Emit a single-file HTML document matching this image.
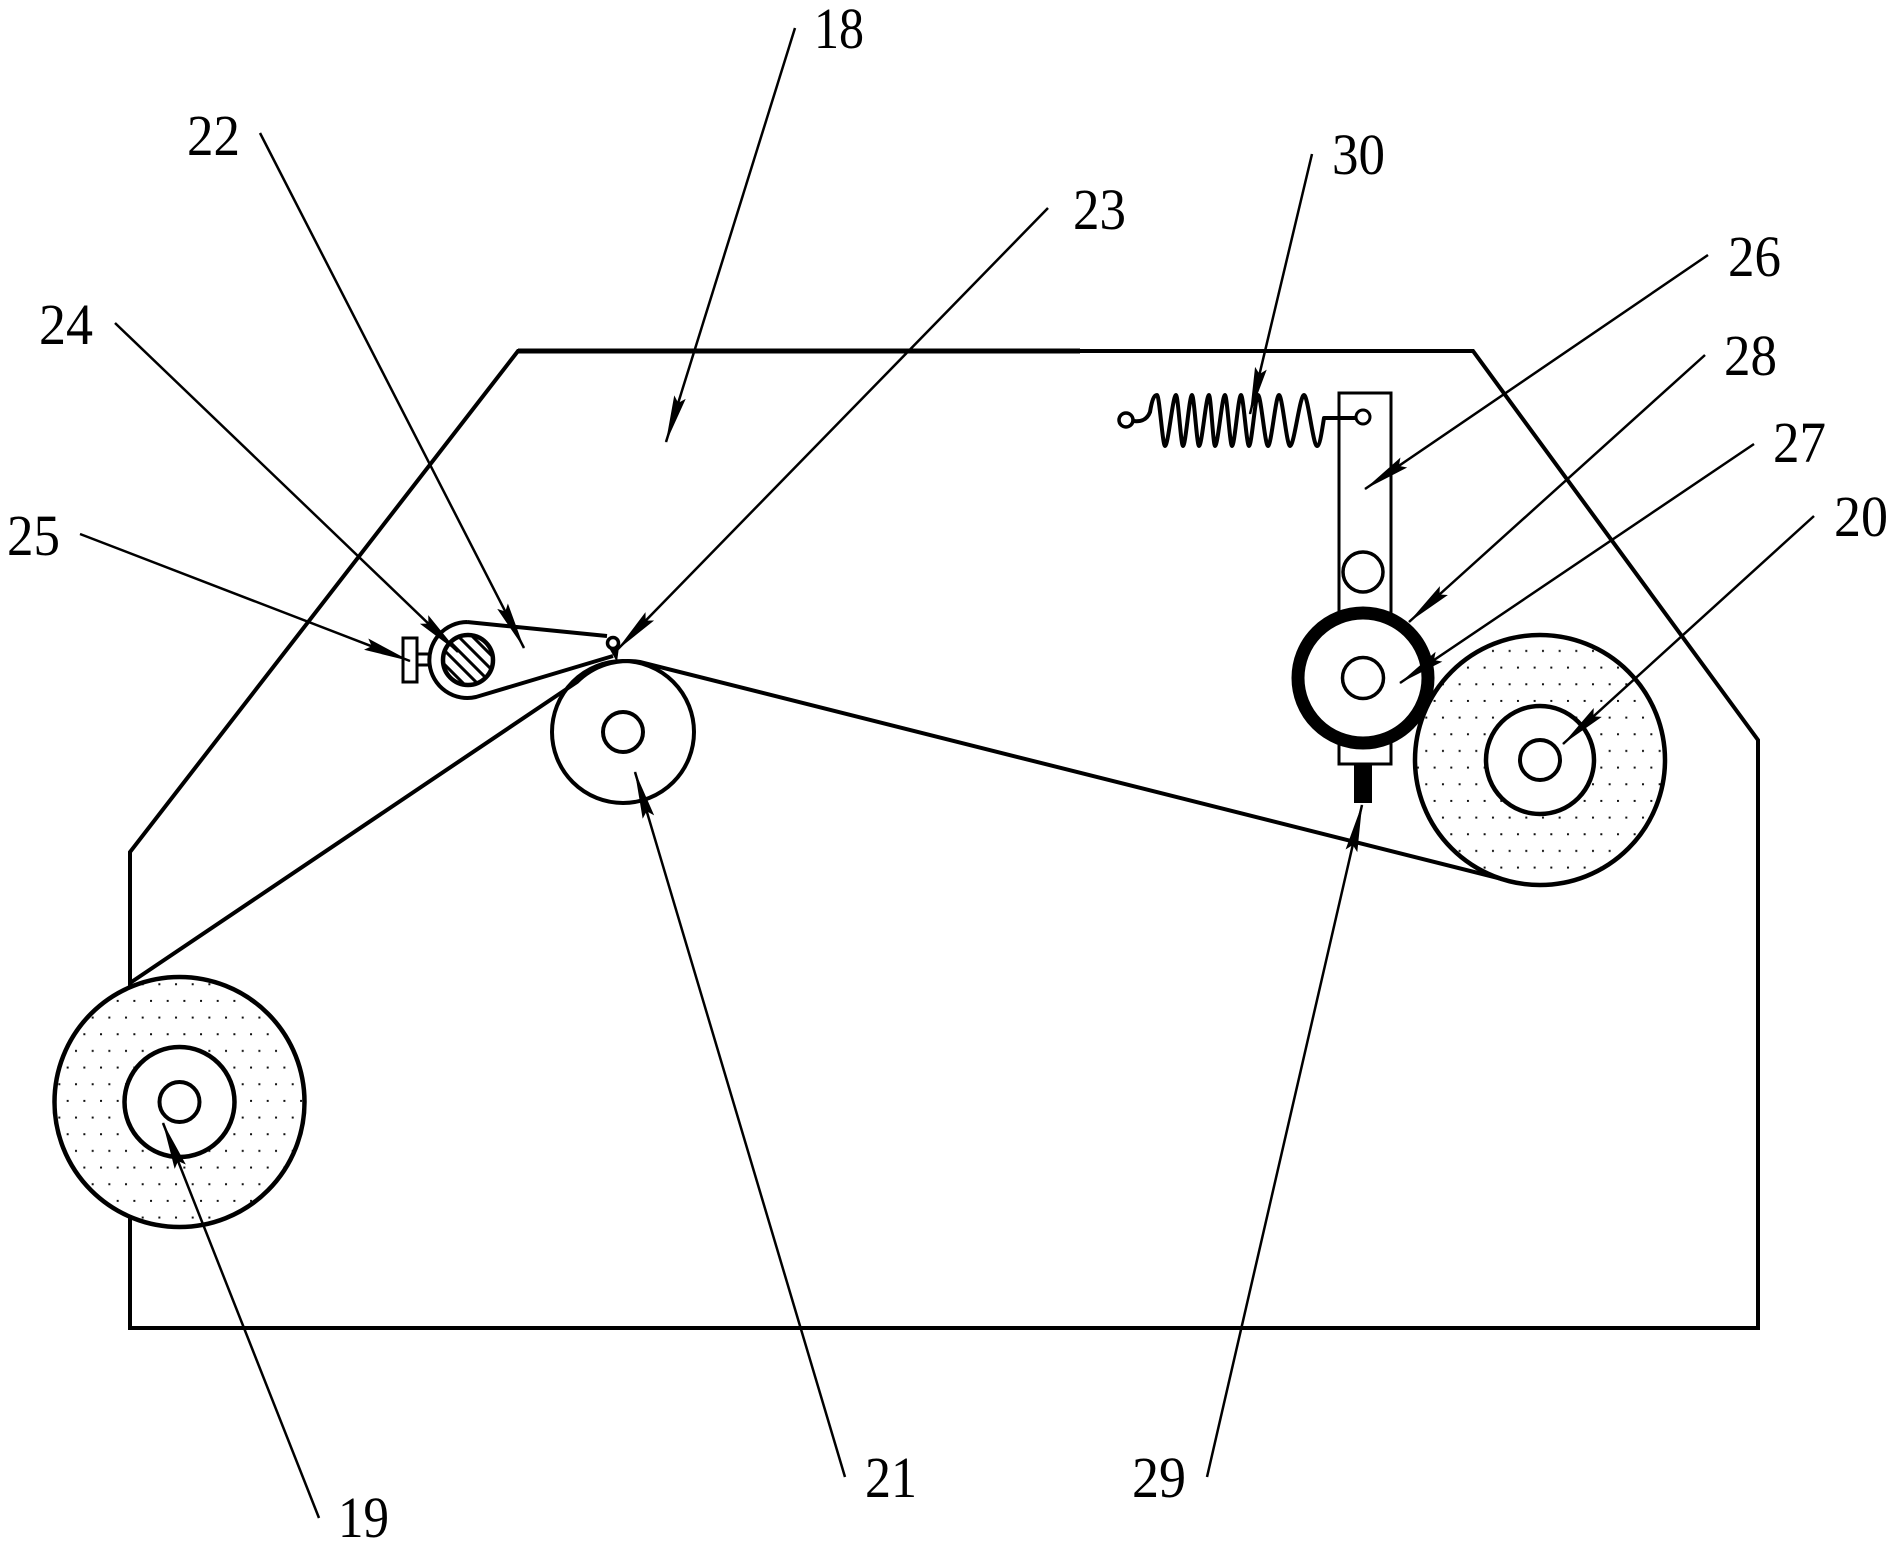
<!DOCTYPE html>
<html>
<head>
<meta charset="utf-8">
<style>
  html,body{margin:0;padding:0;background:#fff;}
  svg{display:block;}
  text{font-family:"Liberation Serif","DejaVu Serif",serif;font-size:58px;fill:#000;}
</style>
</head>
<body>
<svg width="1893" height="1542" viewBox="0 0 1893 1542" xmlns="http://www.w3.org/2000/svg">
  <defs>
    <marker id="ah" viewBox="0 0 48 14" refX="47" refY="7" markerWidth="48" markerHeight="14" markerUnits="userSpaceOnUse" orient="auto">
      <path d="M0,1 L48,7 L0,13 L6,7 Z" fill="#000"/>
    </marker>
    <pattern id="dots" width="16.67" height="33.33" patternUnits="userSpaceOnUse">
      <rect x="0" y="0" width="2" height="2" fill="#111"/>
      <rect x="8.33" y="16.67" width="2" height="2" fill="#111"/>
    </pattern>
    <clipPath id="hc"><circle cx="468" cy="660" r="24"/></clipPath>
  </defs>
  <rect width="1893" height="1542" fill="#fff"/>

  <!-- frame 18 -->
  <path d="M518,351 L1473,351 L1758,740 L1758,1328 L130,1328 L130,852 Z" fill="none" stroke="#000" stroke-width="4" stroke-linejoin="miter"/>
  <line x1="518" y1="351" x2="1080" y2="351" stroke="#000" stroke-width="5"/>

  <!-- tape -->
  <path d="M130,983 L577,682 A72 72 0 0 1 640,662 L1510,881" fill="none" stroke="#000" stroke-width="4"/>

  <!-- roll 19 -->
  <circle cx="179.5" cy="1102" r="125" fill="#fff"/>
  <circle cx="179.5" cy="1102" r="125" fill="url(#dots)" stroke="#000" stroke-width="4.5"/>
  <circle cx="179.5" cy="1102" r="55" fill="#fff" stroke="#000" stroke-width="4.5"/>
  <circle cx="179.5" cy="1102" r="20" fill="#fff" stroke="#000" stroke-width="4"/>

  <!-- roll 20 -->
  <circle cx="1540" cy="760" r="125" fill="#fff"/>
  <circle cx="1540" cy="760" r="125" fill="url(#dots)" stroke="#000" stroke-width="4.5"/>
  <circle cx="1540" cy="760" r="54" fill="#fff" stroke="#000" stroke-width="4.5"/>
  <circle cx="1540" cy="760" r="20" fill="#fff" stroke="#000" stroke-width="4"/>

  <!-- roller 21 -->
  <circle cx="623" cy="732" r="71" fill="none" stroke="#000" stroke-width="4"/>
  <circle cx="623" cy="732" r="20" fill="#fff" stroke="#000" stroke-width="4"/>

  <!-- cam 22 -->
  <path d="M467,622 L607,636 M613,656 L476,697 A38 38 0 1 1 467,622" fill="none" stroke="#000" stroke-width="4"/>
  <!-- hatched shaft 24 -->
  <circle cx="468" cy="660" r="24" fill="#fff"/>
  <g clip-path="url(#hc)" stroke="#000" stroke-width="3">
    <line x1="400" y1="592" x2="540" y2="732"/>
    <line x1="410" y1="588" x2="550" y2="728"/>
    <line x1="390" y1="596" x2="530" y2="736"/>
    <line x1="420" y1="584" x2="560" y2="724"/>
    <line x1="380" y1="600" x2="520" y2="740"/>
    <line x1="430" y1="580" x2="570" y2="720"/>
    <line x1="370" y1="604" x2="510" y2="744"/>
    <line x1="440" y1="576" x2="580" y2="716"/>
    <line x1="360" y1="608" x2="500" y2="748"/>
  </g>
  <circle cx="468" cy="660" r="25" fill="none" stroke="#000" stroke-width="4.5"/>
  <!-- pin 23 -->
  <polygon points="609,648 619,647 617,662" fill="#000"/>
  <circle cx="613" cy="643" r="5.5" fill="#fff" stroke="#000" stroke-width="3.5"/>
  <!-- screw 25 -->
  <rect x="403" y="638" width="14" height="44" fill="#fff" stroke="#000" stroke-width="3"/>
  <path d="M417,654 L431,654 M417,665 L431,665" stroke="#000" stroke-width="3"/>

  <!-- bar 26 -->
  <rect x="1339" y="393" width="52" height="371" fill="#fff" stroke="#000" stroke-width="3"/>
  <circle cx="1363" cy="572" r="20" fill="none" stroke="#000" stroke-width="3.5"/>
  <!-- ring 28 / roller 27 -->
  <circle cx="1363" cy="678" r="65" fill="#fff" stroke="#000" stroke-width="13"/>
  <circle cx="1363" cy="678" r="20.5" fill="#fff" stroke="#000" stroke-width="3.5"/>
  <!-- 29 -->
  <rect x="1354" y="764" width="18" height="39" fill="#000"/>

  <!-- spring 30 -->
  <circle cx="1126" cy="420" r="7" fill="#fff" stroke="#000" stroke-width="3.5"/>
  <circle cx="1363" cy="417" r="7" fill="#fff" stroke="#000" stroke-width="3"/>
  <path d="M1133,421 C1141,422 1147,420 1150,412 C1152,400 1154,395 1157,395
    C1159.4,395 1162.6,446 1165,446
    C1168.3,446 1172.7,395 1176,395
    C1178.1,395 1180.9,446 1183,446
    C1185.7,446 1189.3,395 1192,395
    C1194.1,395 1196.9,446 1199,446
    C1202,446 1206,395 1209,395
    C1210.8,395 1213.2,446 1215,446
    C1218,446 1222,395 1225,395
    C1227.1,395 1229.9,446 1232,446
    C1234.7,446 1238.3,395 1241,395
    C1243.4,395 1246.6,446 1249,446
    C1251.7,446 1255.3,395 1258,395
    C1261,395 1265,446 1268,446
    C1271.3,446 1275.7,395 1279,395
    C1282.3,395 1286.7,446 1290,446
    C1294.2,446 1299.8,395 1304,395
    C1307.9,395 1313.1,446 1317,446
    C1320,446 1322,430 1324,418 L1356,418" fill="none" stroke="#000" stroke-width="4" stroke-linejoin="round"/>

  <!-- leaders -->
  <g stroke="#000" stroke-width="2.5" fill="none" marker-end="url(#ah)">
    <line x1="795" y1="28" x2="666" y2="442"/>
    <line x1="260" y1="133" x2="524" y2="648"/>
    <line x1="115" y1="323" x2="458" y2="652"/>
    <line x1="80" y1="534" x2="410" y2="661"/>
    <line x1="1048" y1="208" x2="617" y2="650"/>
    <line x1="1312" y1="154" x2="1250" y2="414"/>
    <line x1="1708" y1="255" x2="1365" y2="489"/>
    <line x1="1705" y1="355" x2="1409" y2="622"/>
    <line x1="1754" y1="444" x2="1400" y2="683"/>
    <line x1="1814" y1="516" x2="1563" y2="744"/>
    <line x1="319" y1="1518" x2="163" y2="1123"/>
    <line x1="845" y1="1477" x2="635" y2="772"/>
    <line x1="1207" y1="1477" x2="1362" y2="805"/>
  </g>

  <!-- labels -->
  <text x="814" y="48" textLength="50" lengthAdjust="spacingAndGlyphs">18</text>
  <text x="187" y="155" textLength="53" lengthAdjust="spacingAndGlyphs">22</text>
  <text x="39" y="344" textLength="54" lengthAdjust="spacingAndGlyphs">24</text>
  <text x="7" y="555" textLength="53" lengthAdjust="spacingAndGlyphs">25</text>
  <text x="1073" y="229" textLength="53" lengthAdjust="spacingAndGlyphs">23</text>
  <text x="1332" y="174" textLength="53" lengthAdjust="spacingAndGlyphs">30</text>
  <text x="1728" y="276" textLength="53" lengthAdjust="spacingAndGlyphs">26</text>
  <text x="1724" y="375" textLength="53" lengthAdjust="spacingAndGlyphs">28</text>
  <text x="1773" y="462" textLength="53" lengthAdjust="spacingAndGlyphs">27</text>
  <text x="1834" y="536" textLength="54" lengthAdjust="spacingAndGlyphs">20</text>
  <text x="338" y="1537" textLength="51" lengthAdjust="spacingAndGlyphs">19</text>
  <text x="865" y="1497" textLength="52" lengthAdjust="spacingAndGlyphs">21</text>
  <text x="1132" y="1497" textLength="54" lengthAdjust="spacingAndGlyphs">29</text>
</svg>
</body>
</html>
